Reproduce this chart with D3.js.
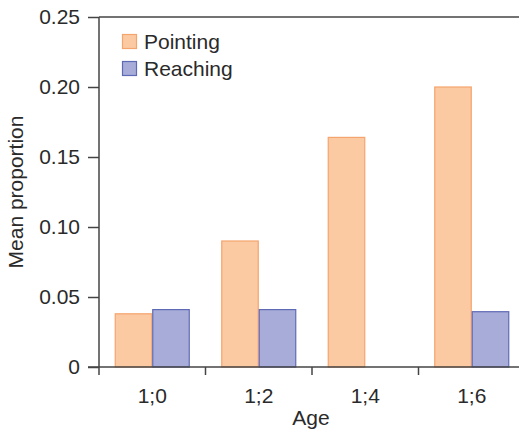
<!DOCTYPE html>
<html><head><meta charset="utf-8">
<script src="https://cdn.jsdelivr.net/npm/d3@7"></script>
<style>body{margin:0;background:#fff}svg{display:block}text{font-family:"Liberation Sans",Arial,sans-serif;fill:#2a2a2a}</style>
</head><body><svg id="c" width="519" height="432"></svg>
<script>
const ages = ["1;0","1;2","1;4","1;6"];
const pointing = [0.038, 0.090, 0.164, 0.200];
const reaching = [0.041, 0.041, 0, 0.0395];
const seriesNames = ["Pointing","Reaching"];
const yTicks = [0, 0.05, 0.10, 0.15, 0.20, 0.25];
const yTickLabels = ["0","0.05","0.10","0.15","0.20","0.25"];
const fills = ["#fbcaa3","#a7acd8"];
const strokes = ["#f6a46d","#5f6ab5"];

const FS = 21;
const TC = "#2a2a2a";
const svg = d3.select("#c");
const x0 = 99, x1 = 525, yB = 367, yT = 17;
const x = d3.scaleBand().domain(ages).range([x0, x1]).paddingInner(0).paddingOuter(0);
const y = d3.scaleLinear().domain([0, 0.25]).range([yB, yT]);
const inner = d3.scaleBand().domain(seriesNames).range([0, x.bandwidth()]).paddingInner(0).paddingOuter(0.42);
const data = [pointing, reaching];

const g = svg.append("g");
seriesNames.forEach((s, si) => {
  g.selectAll(".b"+si).data(ages).enter().filter((d,i)=>data[si][i]>0).append("rect")
    .attr("x", d => x(d) + inner(s) + 0.5)
    .attr("y", (d) => y(data[si][ages.indexOf(d)]))
    .attr("width", inner.bandwidth() - 1)
    .attr("height", d => yB - y(data[si][ages.indexOf(d)]))
    .attr("fill", fills[si]).attr("stroke", strokes[si]).attr("stroke-width", 1.2);
});

// y axis
const ya = svg.append("g").attr("transform", `translate(${x0},0)`)
  .call(d3.axisLeft(y).tickValues(yTicks).tickFormat((d,i)=>yTickLabels[i]).tickSize(11).tickPadding(8));
ya.select(".domain").remove();
ya.selectAll(".tick line").attr("stroke", "#444").attr("stroke-width", 1.5);
ya.selectAll(".tick text").attr("font-size", FS).attr("fill", TC);
svg.append("line").attr("x1", x0).attr("x2", x0).attr("y1", yT).attr("y2", yB+8).attr("stroke","#444").attr("stroke-width",1.5);
svg.append("line").attr("x1", x0).attr("x2", 519).attr("y1", yT).attr("y2", yT).attr("stroke","#444").attr("stroke-width",1.5);

// x axis
const xa = svg.append("g").attr("transform", `translate(0,${yB})`)
  .call(d3.axisBottom(x).tickSize(0).tickPadding(21));
xa.select(".domain").remove();
xa.selectAll(".tick text").attr("font-size", FS).attr("fill", TC);
svg.append("g").selectAll("line").data(ages.slice(1)).enter().append("line")
  .attr("x1", d => x(d)).attr("x2", d => x(d)).attr("y1", yB).attr("y2", yB+8)
  .attr("stroke","#444").attr("stroke-width",1.5);
svg.append("line").attr("x1", 88).attr("x2", 519).attr("y1", yB).attr("y2", yB).attr("stroke","#444").attr("stroke-width",1.5);

// titles
svg.append("text").attr("x", 311).attr("y", 425).attr("text-anchor","middle").attr("font-size",FS).text("Age");
svg.append("text").attr("transform","translate(23,192) rotate(-90)").attr("text-anchor","middle").attr("font-size",FS).text("Mean proportion");

// legend
seriesNames.forEach((s, i) => {
  const ly = 34.5 + i*27;
  svg.append("rect").attr("x",122.5).attr("y",ly).attr("width",14).attr("height",14)
    .attr("fill",fills[i]).attr("stroke",strokes[i]).attr("stroke-width",1.2);
  svg.append("text").attr("x",144).attr("y",ly+14.5).attr("font-size",FS).text(s);
});
</script></body></html>
